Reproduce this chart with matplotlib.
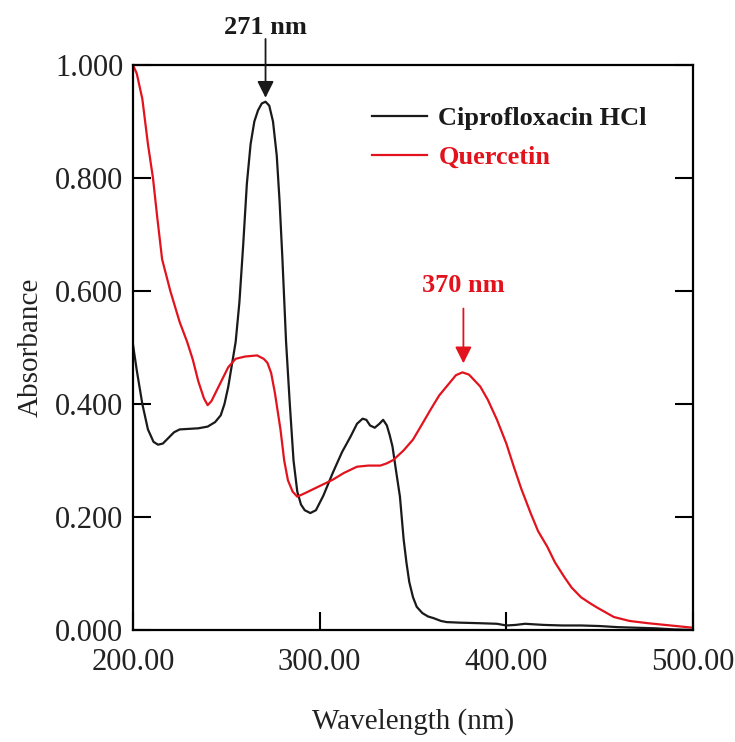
import matplotlib.pyplot as plt

# Ciprofloxacin HCl spectrum
cipro_nm = [200, 202, 205, 208, 211, 213.4, 216, 219, 222, 225, 230, 235, 240, 244, 247, 249,
            251, 253, 255, 257, 259, 261, 263, 265, 267, 269, 271, 273, 275, 277, 278.5, 280,
            282, 284, 286, 288, 290, 292, 295, 298, 302, 307, 312, 316.5, 320, 323, 325, 327,
            329.5, 332, 334, 336, 337.5, 339, 341, 343, 345, 346.5, 348, 350, 352, 355, 358,
            361, 365, 368, 375, 386, 395, 400, 405, 410, 415, 420, 430, 440, 450, 460, 470,
            480, 490, 500]
cipro_abs = [0.505, 0.46, 0.40, 0.355, 0.333, 0.328, 0.33, 0.34, 0.35, 0.355, 0.356, 0.357,
             0.36, 0.368, 0.38, 0.40, 0.43, 0.47, 0.51, 0.58, 0.68, 0.79, 0.86, 0.90, 0.92,
             0.932, 0.935, 0.928, 0.90, 0.84, 0.76, 0.66, 0.51, 0.40, 0.30, 0.245, 0.222,
             0.212, 0.207, 0.212, 0.238, 0.278, 0.315, 0.342, 0.365, 0.374, 0.372, 0.362,
             0.358, 0.365, 0.372, 0.362, 0.345, 0.325, 0.28, 0.236, 0.16, 0.119, 0.085,
             0.058, 0.041, 0.03, 0.024, 0.021, 0.016, 0.014, 0.013, 0.012, 0.011, 0.008,
             0.009, 0.011, 0.010, 0.009, 0.008, 0.008, 0.007, 0.005, 0.004, 0.003, 0.001, 0.0]

# Quercetin spectrum
querc_nm = [200, 202, 205, 208, 210.7, 213, 215.6, 220, 225, 229, 232, 235, 238, 240, 242,
            245, 248, 251, 255, 260, 266.5, 270, 272, 274, 276, 279, 281, 283, 285.5, 288,
            292, 297, 302, 307, 313, 320, 326, 332.5, 336, 339.5, 345, 350, 355, 359.4, 364,
            368.5, 373, 376.5, 380, 386, 390, 395, 400, 404, 408, 413, 417, 422, 426, 431,
            435, 440, 445, 449, 457.6, 466, 476, 488, 500]
querc_abs = [1.0, 0.985, 0.94, 0.86, 0.80, 0.73, 0.656, 0.60, 0.545, 0.51, 0.479, 0.44, 0.41,
             0.398, 0.405, 0.425, 0.445, 0.465, 0.48, 0.484, 0.486, 0.48, 0.473, 0.455, 0.42,
             0.355, 0.30, 0.265, 0.245, 0.236, 0.242, 0.25, 0.258, 0.266, 0.278, 0.289, 0.291,
             0.291, 0.295, 0.301, 0.318, 0.337, 0.365, 0.39, 0.415, 0.433, 0.451, 0.456,
             0.452, 0.431, 0.408, 0.372, 0.33, 0.289, 0.25, 0.207, 0.175, 0.147, 0.12, 0.094,
             0.075, 0.058, 0.047, 0.039, 0.023, 0.016, 0.012, 0.008, 0.004]

labels = ['Ciprofloxacin HCl', 'Quercetin']
x_ticks = [200, 300, 400, 500]
y_ticks = [0.0, 0.2, 0.4, 0.6, 0.8, 1.0]

black = '#1a1a1a'
red = '#e3131d'

plt.rcParams['font.family'] = ['Liberation Serif', 'DejaVu Serif']

fig = plt.figure(figsize=(7.35, 7.42), dpi=100)
ax = fig.add_axes([133/735, 1 - 630/742, (693-133)/735, (630-65)/742])

ax.plot(cipro_nm, cipro_abs, color=black, lw=1.6, label=labels[0])
ax.plot(querc_nm, querc_abs, color=red, lw=1.6, label=labels[1])

ax.set_xlim(200, 500)
ax.set_ylim(0, 1.0)
ax.set_xticks(x_ticks)
ax.set_xticklabels(['%.2f' % v for v in x_ticks])
ax.set_yticks(y_ticks)
ax.set_yticklabels(['%.3f' % v for v in y_ticks])
ax.tick_params(direction='in', length=13, width=1.5, labelsize=22, labelcolor='#222222',
               right=True, top=False, pad=7)
ax.tick_params(axis='x', pad=13)
for s in ax.spines.values():
    s.set_linewidth(1.6)

ax.set_xlabel('Wavelength (nm)', fontsize=21, color='#222222', labelpad=22)
ax.set_ylabel('Absorbance', fontsize=21, color='#222222', labelpad=8)

leg = ax.legend(loc='upper left', bbox_to_anchor=(372/735, 1 - 107/742),
                bbox_transform=fig.transFigure, frameon=False, borderpad=0,
                borderaxespad=0, handlelength=2.1, handletextpad=0.42, labelspacing=0.58,
                prop={'weight': 'bold', 'size': 19})
for t, c in zip(leg.get_texts(), [black, red]):
    t.set_color(c)

# peak markers
ax.text(271, 1.066, '271 nm', ha='center', va='center', fontsize=19, fontweight='bold',
        color=black, clip_on=False)
ax.annotate('', xy=(271, 0.942), xytext=(271, 1.046),
            arrowprops=dict(arrowstyle='-|>', color=black, lw=1.3, mutation_scale=25,
                            shrinkA=0, shrinkB=0), annotation_clip=False)
ax.text(377, 0.61, '370 nm', ha='center', va='center', fontsize=19, fontweight='bold',
        color=red)
ax.annotate('', xy=(377, 0.472), xytext=(377, 0.569),
            arrowprops=dict(arrowstyle='-|>', color=red, lw=1.3, mutation_scale=25,
                            shrinkA=0, shrinkB=0))

fig.savefig('out.png', dpi=100)
